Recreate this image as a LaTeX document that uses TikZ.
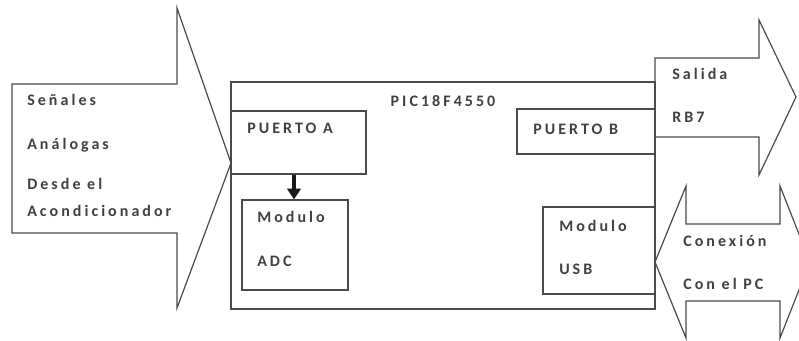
\documentclass[tikz,border=0pt]{standalone}
\usepackage{fontspec}
\setmainfont[LetterSpace=19]{Carlito}
\usetikzlibrary{fit,arrows.meta}
\definecolor{linec}{HTML}{4A4A4A}
\definecolor{txtc}{HTML}{404040}
\tikzset{
  box/.style={draw=linec, line width=0.9pt, inner sep=0pt},
  shapeline/.style={draw=linec, line width=0.9pt, line join=miter},
  lbl/.style={anchor=base west, inner sep=0pt, text=txtc, font=\fontsize{12}{14}\selectfont\bfseries},
  clbl/.style={anchor=base, inner sep=0pt, text=txtc, font=\fontsize{12}{14}\selectfont\bfseries},
  flow/.style={line width=2.6pt, -{Triangle[length=8pt,width=10pt]}, black!90}
}
\begin{document}
\begin{tikzpicture}[x=0.75pt,y=-0.75pt]
\useasboundingbox (0,0) rectangle (799,340);
\clip (0,0) rectangle (799,340);
% input arrow
\draw[shapeline] (12,84) -- (177,84) -- (177,8) -- (231,163) -- (177,308) -- (177,233) -- (12,233) -- cycle;
% main box
\node[box, fit={(231,82)(655,309)}] (pic) {};
% output arrow Salida
\draw[shapeline] (655,82) -- (655,58) -- (759,58) -- (759,20) -- (796,97) -- (759,175) -- (759,137) -- (655,137);
% double arrow Conexion
\draw[shapeline] (655,262) -- (686,186) -- (686,224) -- (780,224) -- (780,186) -- (810,262) -- (780,338) -- (780,301) -- (686,301) -- (686,338) -- cycle;
% inner boxes
\node[box, fit={(231,111)(366,174)}] (pa) {};
\node[box, fit={(242,200)(348,290)}] (adc) {};
\node[box, fit={(517,109)(655,154)}] (pb) {};
\node[box, fit={(543,207)(655,294)}] (usb) {};
\draw[flow] (pa.south -| 294,0) -- (adc.north -| 294,0);
% texts
\node[clbl] (tpic) at (443,106) {PIC18F4550};
\node[lbl] (t1) at (27,105) {Señales};
\node[lbl] (t2) at (27,149) {Análogas};
\node[lbl] (t3) at (27,189) {Desde el};
\node[lbl] (t4) at (27,216) {Acondicionador};
\node[lbl] (tpa) at (247,133) {PUERTO A};
\node[lbl] (tm1) at (257,222) {Modulo};
\node[lbl] (tadc) at (257,266) {ADC};
\node[lbl] (tpb) at (533,134) {PUERTO B};
\node[lbl] (tm2) at (559,231) {Modulo};
\node[lbl] (tusb) at (559,274) {USB};
\node[lbl] (ts) at (672,79) {Salida};
\node[lbl] (trb) at (672,122) {RB7};
\node[lbl] (tc1) at (683,246) {Conexión};
\node[lbl] (tc2) at (683,289) {Con el PC};
\end{tikzpicture}
\end{document}
